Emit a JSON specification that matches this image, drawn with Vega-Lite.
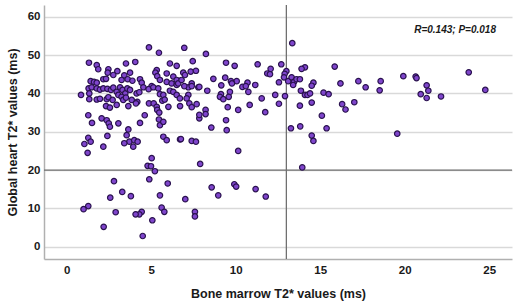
{
  "$schema": "https://vega.github.io/schema/vega-lite/v6.json",
  "width": 468,
  "height": 254,
  "autosize": {"type": "none"},
  "padding": {"left": 44, "top": 5, "right": 8, "bottom": 44},
  "background": "white",
  "config": {
    "view": {"stroke": null},
    "axis": {
      "domainColor": "#b0b0b0",
      "domainWidth": 1.5,
      "ticks": false,
      "labelFont": "Liberation Sans",
      "labelFontWeight": "bold",
      "labelFontSize": 11.5,
      "labelColor": "#1a1a1a",
      "titleFont": "Liberation Sans",
      "titleFontWeight": "bold",
      "titleFontSize": 12.5,
      "titleColor": "#1a1a1a",
      "gridColor": "#d9d9d9",
      "gridWidth": 1.5
    }
  },
  "layer": [
    {
      "data": {"values": [{"y": 20}]},
      "mark": {"type": "rule", "color": "#707070", "strokeWidth": 1.3},
      "encoding": {
        "y": {"field": "y", "type": "quantitative", "scale": {"domain": [-3.2, 63.06], "nice": false, "zero": false}, "axis": {"title": "Global heart T2* values (ms)", "values": [0, 10, 20, 30, 40, 50, 60], "grid": true, "labelPadding": 4, "titlePadding": 8}}
      }
    },
    {
      "data": {"values": [{"x": 13.0}]},
      "mark": {"type": "rule", "color": "#707070", "strokeWidth": 1.3},
      "encoding": {
        "x": {"field": "x", "type": "quantitative", "scale": {"domain": [-1.34, 26.35], "nice": false, "zero": false}, "axis": {"title": "Bone marrow T2* values (ms)", "values": [0, 5, 10, 15, 20, 25], "grid": false, "labelPadding": 5, "titlePadding": 12}}
      }
    },
    {
      "data": {"values": [
        {"x":1.24,"y":24.5},{"x":5.03,"y":23.1},{"x":4.79,"y":21.1},{"x":4.99,"y":21.0},{"x":5.22,"y":19.7},{"x":4.89,"y":17.6},{"x":2.8,"y":17.1},{"x":5.98,"y":16.5},{"x":3.29,"y":14.3},{"x":3.8,"y":13.2},{"x":5.52,"y":13.4},{"x":2.58,"y":12.8},{"x":1.28,"y":10.6},{"x":1.0,"y":9.8},{"x":5.62,"y":10.2},{"x":5.78,"y":9.1},{"x":2.9,"y":9.0},{"x":4.44,"y":9.1},{"x":4.3,"y":8.45},{"x":4.08,"y":8.45},{"x":5.07,"y":6.9},{"x":2.19,"y":5.2},{"x":4.5,"y":2.8},
        {"x":10.15,"y":25.0},{"x":7.9,"y":21.6},{"x":13.94,"y":20.7},{"x":8.58,"y":15.5},{"x":9.92,"y":16.3},{"x":10.03,"y":15.7},{"x":11.18,"y":15.05},{"x":8.97,"y":13.4},{"x":11.78,"y":13.1},{"x":7.02,"y":12.4},{"x":7.59,"y":9.1},{"x":7.59,"y":7.9},
        {"x":4.87,"y":52.0},{"x":5.46,"y":50.6},{"x":1.32,"y":48.0},{"x":4.06,"y":48.2},{"x":3.51,"y":47.8},{"x":1.78,"y":47.4},{"x":6.11,"y":47.8},{"x":6.51,"y":47.2},{"x":1.87,"y":46.3},{"x":2.47,"y":46.3},{"x":2.43,"y":45.4},{"x":3.0,"y":45.8},{"x":3.75,"y":45.4},{"x":5.33,"y":46.1},{"x":5.25,"y":45.4},{"x":2.76,"y":44.8},{"x":3.41,"y":44.7},{"x":5.92,"y":45.2},
        {"x":1.42,"y":43.2},{"x":1.62,"y":43.0},{"x":1.78,"y":42.8},{"x":2.17,"y":43.7},{"x":2.33,"y":43.8},{"x":3.25,"y":43.5},{"x":3.61,"y":43.7},{"x":3.89,"y":43.3},{"x":4.34,"y":43.7},{"x":4.44,"y":42.8},{"x":5.36,"y":44.5},{"x":5.52,"y":43.5},{"x":5.92,"y":43.0},{"x":6.21,"y":42.6},{"x":6.51,"y":42.2},{"x":5.03,"y":41.9},
        {"x":1.3,"y":41.3},{"x":1.48,"y":41.6},{"x":1.78,"y":41.3},{"x":1.97,"y":41.0},{"x":2.17,"y":41.3},{"x":2.41,"y":41.2},{"x":2.62,"y":40.9},{"x":2.76,"y":41.5},{"x":2.96,"y":40.4},{"x":3.16,"y":41.6},{"x":3.31,"y":40.9},{"x":3.47,"y":40.0},{"x":3.59,"y":41.3},{"x":3.75,"y":40.9},{"x":0.85,"y":39.6},{"x":1.34,"y":40.0},{"x":3.06,"y":39.6},{"x":3.25,"y":39.1},{"x":4.14,"y":40.0},{"x":4.3,"y":40.3},{"x":4.54,"y":41.6},{"x":4.85,"y":41.1},{"x":5.13,"y":41.6},{"x":5.42,"y":41.3},{"x":5.52,"y":39.8},{"x":5.72,"y":39.6},{"x":6.11,"y":40.7},{"x":6.31,"y":40.4},
        {"x":1.34,"y":38.5},{"x":1.78,"y":38.4},{"x":1.97,"y":38.6},{"x":2.37,"y":38.5},{"x":2.47,"y":39.0},{"x":2.72,"y":38.3},{"x":3.35,"y":38.3},{"x":3.51,"y":38.9},{"x":3.85,"y":38.3},{"x":4.18,"y":37.8},{"x":4.1,"y":37.4},{"x":4.87,"y":37.4},{"x":5.15,"y":37.4},{"x":5.33,"y":36.5},{"x":5.66,"y":38.1},{"x":5.8,"y":38.4},{"x":2.33,"y":36.7},{"x":2.56,"y":36.3},{"x":2.96,"y":37.0},{"x":3.65,"y":36.7},{"x":5.36,"y":35.7},{"x":5.48,"y":35.0},{"x":6.02,"y":36.5},{"x":6.71,"y":36.7},
        {"x":1.28,"y":34.3},{"x":2.07,"y":33.5},{"x":2.37,"y":33.0},{"x":2.49,"y":32.2},{"x":2.56,"y":31.3},{"x":3.06,"y":32.2},{"x":3.65,"y":30.6},{"x":4.62,"y":34.3},{"x":4.34,"y":32.3},{"x":5.46,"y":33.2},{"x":5.52,"y":31.7},{"x":5.72,"y":32.6},{"x":1.5,"y":32.3},{"x":2.41,"y":28.9},{"x":3.55,"y":29.1},{"x":3.71,"y":27.4},{"x":4.0,"y":27.8},{"x":4.2,"y":27.4},{"x":3.41,"y":27.0},{"x":1.28,"y":28.4},{"x":1.42,"y":27.4},{"x":1.05,"y":26.8},{"x":2.17,"y":26.1},{"x":3.94,"y":26.1},{"x":5.72,"y":28.7},{"x":5.92,"y":27.8},{"x":6.71,"y":28.0},
        {"x":13.35,"y":53.1},{"x":6.96,"y":51.9},{"x":8.24,"y":50.3},{"x":7.46,"y":48.4},{"x":9.43,"y":48.0},{"x":9.94,"y":47.2},{"x":11.3,"y":47.6},{"x":12.7,"y":47.6},{"x":15.86,"y":47.0},{"x":14.1,"y":46.8},{"x":13.9,"y":46.4},{"x":12.07,"y":46.4},{"x":11.87,"y":45.2},{"x":12.03,"y":45.0},{"x":13.0,"y":45.8},{"x":12.9,"y":45.1},{"x":12.86,"y":44.2},
        {"x":13.11,"y":43.2},{"x":13.31,"y":44.2},{"x":13.45,"y":43.0},{"x":13.6,"y":43.7},{"x":13.8,"y":43.7},{"x":13.4,"y":42.2},{"x":12.56,"y":42.9},{"x":11.16,"y":42.2},{"x":10.7,"y":42.8},{"x":10.4,"y":41.7},{"x":10.6,"y":41.9},{"x":10.06,"y":43.2},{"x":9.72,"y":43.2},{"x":9.78,"y":42.6},{"x":9.38,"y":44.1},{"x":8.68,"y":43.8},{"x":9.15,"y":42.1},{"x":8.32,"y":40.7},{"x":9.66,"y":40.4},
        {"x":9.13,"y":39.8},{"x":9.07,"y":39.1},{"x":9.27,"y":38.5},{"x":9.59,"y":39.1},{"x":10.75,"y":40.4},{"x":11.54,"y":38.7},{"x":12.34,"y":39.6},{"x":12.92,"y":39.3},{"x":13.86,"y":40.7},{"x":14.1,"y":39.6},{"x":14.25,"y":39.6},{"x":14.4,"y":40.0},{"x":14.6,"y":42.8},{"x":14.5,"y":42.0},{"x":15.2,"y":40.2},{"x":15.5,"y":39.8},{"x":16.2,"y":42.6},{"x":16.3,"y":37.2},{"x":16.5,"y":35.8},{"x":13.8,"y":36.8},{"x":14.5,"y":37.6},{"x":12.56,"y":37.3},{"x":11.75,"y":35.1},{"x":10.83,"y":37.0},{"x":10.15,"y":35.7},{"x":9.53,"y":36.4},{"x":8.22,"y":35.7},{"x":8.22,"y":34.6},{"x":7.85,"y":33.5},{"x":15.1,"y":34.2},{"x":9.43,"y":33.0},{"x":8.56,"y":31.1},{"x":9.47,"y":30.4},{"x":13.27,"y":30.9},{"x":13.82,"y":31.4},{"x":15.38,"y":30.9},{"x":14.5,"y":29.0},{"x":14.6,"y":27.6},{"x":6.76,"y":28.1},{"x":7.4,"y":27.6},{"x":7.65,"y":27.4},
        {"x":6.31,"y":44.4},{"x":6.51,"y":43.5},{"x":6.6,"y":42.6},{"x":6.9,"y":45.4},{"x":7.0,"y":44.8},{"x":7.34,"y":45.7},{"x":7.65,"y":45.9},{"x":6.8,"y":43.5},{"x":7.2,"y":41.6},{"x":7.79,"y":41.6},{"x":6.51,"y":39.6},{"x":6.7,"y":38.7},{"x":7.2,"y":39.6},{"x":7.1,"y":38.7},{"x":7.26,"y":37.4},{"x":7.4,"y":36.4},{"x":7.69,"y":37.2},{"x":7.85,"y":34.4},{"x":7.4,"y":42.6},{"x":7.4,"y":41.9},{"x":6.96,"y":41.9},{"x":7.85,"y":41.7},
        {"x":17.26,"y":43.2},{"x":17.69,"y":41.6},{"x":18.58,"y":43.2},{"x":18.52,"y":40.8},{"x":19.92,"y":44.5},{"x":20.65,"y":44.4},{"x":20.7,"y":44.0},{"x":21.3,"y":42.1},{"x":21.4,"y":40.7},{"x":20.95,"y":39.8},{"x":21.3,"y":38.8},{"x":22.15,"y":39.2},{"x":23.79,"y":45.5},{"x":24.77,"y":40.9},{"x":19.56,"y":29.5},{"x":17.02,"y":37.7}
      ]},
      "mark": {"type": "point", "shape": "circle", "filled": true, "size": 30, "fill": "#7f45cc", "stroke": "#2a124f", "strokeWidth": 1.2, "opacity": 1},
      "encoding": {
        "x": {"field": "x", "type": "quantitative", "scale": {"domain": [-1.34, 26.35], "nice": false, "zero": false}, "axis": {"title": "Bone marrow T2* values (ms)", "values": [0, 5, 10, 15, 20, 25], "grid": false, "labelPadding": 5, "titlePadding": 12}},
        "y": {"field": "y", "type": "quantitative", "scale": {"domain": [-3.2, 63.06], "nice": false, "zero": false}, "axis": {"title": "Global heart T2* values (ms)", "values": [0, 10, 20, 30, 40, 50, 60], "grid": true, "labelPadding": 4, "titlePadding": 8}}
      }
    },
    {
      "data": {"values": [{"x": 25.4, "y": 56.6, "label": "R=0.143; P=0.018"}]},
      "mark": {"type": "text", "align": "right", "baseline": "middle", "font": "Liberation Sans", "fontWeight": "bold", "fontStyle": "italic", "fontSize": 10, "color": "#1a1a1a"},
      "encoding": {
        "x": {"field": "x", "type": "quantitative"},
        "y": {"field": "y", "type": "quantitative"},
        "text": {"field": "label"}
      }
    }
  ]
}
